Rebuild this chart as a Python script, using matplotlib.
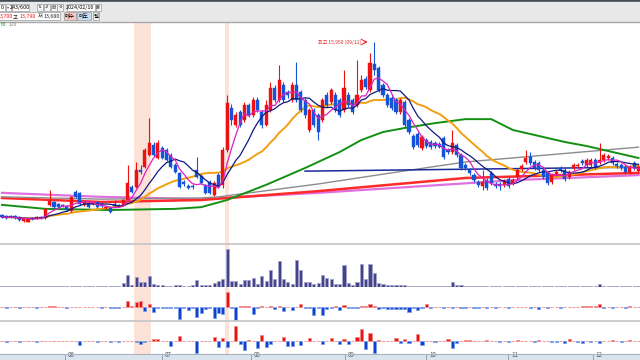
import matplotlib
matplotlib.use('Agg')
import matplotlib.pyplot as plt
import numpy as np
import pandas as pd
from matplotlib.patches import Rectangle

plt.rcParams['font.family'] = ['Noto Sans CJK KR', 'DejaVu Sans']

# ---------------- data ----------------
opens = [12920,12905,12905,12905,12890,12820,12800,12870,12870,12890,
         12870,13100,13150,13115,13100,13080,12990,13325,13310,13100,
         13130,13115,13150,13115,13045,13045,13115,13100,13100,13185,
         13410,13410,13710,13760,13970,14150,13920,14095,14060,13970,
         13800,13660,13500,13430,13430,13710,13605,13450,13500,13270,
         13620,13450,14060,14795,14500,14725,14585,14850,14670,14935,
         14725,14500,14760,15145,14935,15200,15075,14935,15200,15075,
         14935,14410,14760,14670,14585,15020,14900,15020,14935,14760,
         15020,14935,14850,15110,15300,15110,15565,15495,15200,15020,
         14970,14935,14725,14900,14585,14305,14340,14095,14235,14200,
         14180,14165,14270,14060,14025,14150,13970,13800,13710,13620,
         13500,13430,13535,13660,13465,13465,13450,13550,13480,13590,
         13730,13850,13940,13850,13830,13710,13660,13500,13640,13745,
         13710,13590,13745,13780,13870,13800,13800,13885,13850,13885,
         13920,13920,13815,13800,13760,13675,13830,13700]
closes = [12890,12870,12890,12870,12835,12850,12850,12850,12890,12870,
          13030,13170,13060,13060,13080,13010,13240,13240,13115,13150,
          13060,13130,13060,13080,13060,12975,13080,13080,13185,13480,
          13325,13710,13675,14060,14180,13970,14180,13920,13885,13760,
          13675,13410,13465,13395,13410,13590,13480,13310,13310,13480,
          13410,14060,14880,14585,14670,14500,14850,14670,14935,14760,
          14500,14850,15145,14935,15285,14935,15020,15200,14935,14760,
          14670,14760,14500,14375,14935,14850,15110,14760,14670,15145,
          14850,14725,15020,15285,15160,15580,15460,15110,15020,14850,
          14795,14725,14935,14500,14375,14110,14150,14290,14130,14110,
          14130,14110,13940,14025,14180,13970,13745,13745,13660,13535,
          13450,13500,13395,13480,13430,13430,13520,13430,13535,13710,
          13780,13920,13830,13745,13710,13590,13480,13620,13675,13710,
          13550,13675,13800,13800,13830,13885,13885,13760,13885,13970,
          13955,13830,13780,13745,13675,13760,13745,13760]
highs = [12940,12920,12920,12920,12905,12870,12870,12890,12905,12905,
         13045,13360,13170,13130,13115,13100,13255,13360,13325,13170,
         13150,13150,13170,13130,13080,13060,13185,13115,13200,13800,
         13450,13850,13800,14095,14620,14200,14235,14130,14095,14010,
         13830,13675,13535,13465,13465,13940,13640,13465,13535,13520,
         13660,14110,15020,14860,14725,14760,14900,14880,14990,14990,
         14760,14935,15250,15200,15550,15250,15110,15250,15600,15110,
         14970,14795,14795,14710,14970,15075,15145,15075,14970,15460,
         15075,14970,15635,15370,15355,15760,15950,15530,15230,15055,
         15005,14970,14970,14935,14620,14340,14375,14320,14270,14235,
         14220,14200,14305,14095,14410,14180,14010,13830,13745,13660,
         13535,13710,13570,13690,13500,13500,13550,13590,13570,13745,
         13815,14060,14025,13885,13870,13745,13690,13660,13710,13780,
         13745,13710,13830,13830,13900,13920,13920,13920,14180,14010,
         13990,13955,13850,13830,13800,13800,13870,13790]
lows = [12870,12850,12870,12850,12820,12800,12800,12835,12850,12850,
        12850,13080,13045,13045,13060,12990,12975,13220,13100,13080,
        13045,13100,13045,13060,13030,12960,13060,13060,13080,13170,
        13310,13395,13640,13745,13955,13955,13900,13900,13870,13745,
        13660,13395,13430,13380,13380,13570,13465,13290,13290,13255,
        13395,13395,14025,14500,14460,14460,14550,14640,14640,14725,
        14445,14480,14725,14900,14900,14900,14970,14900,14900,14725,
        14620,14375,14460,14235,14550,14810,14865,14725,14640,14725,
        14810,14690,14810,15075,15130,15075,15370,15075,14990,14810,
        14760,14690,14690,14460,14340,14080,14110,14060,14095,14080,
        14095,14095,13900,13990,13990,13940,13710,13710,13620,13500,
        13410,13360,13360,13450,13395,13360,13410,13395,13450,13550,
        13690,13815,13800,13710,13675,13550,13450,13465,13605,13675,
        13520,13550,13710,13745,13800,13760,13760,13730,13815,13850,
        13885,13800,13745,13710,13640,13640,13710,13680]
volume = [20,15,20,15,20,20,15,20,15,20,
          25,30,25,20,15,20,20,25,20,15,
          20,20,15,20,20,15,20,20,80,240,
          40,200,100,100,220,60,40,40,30,30,
          40,40,30,30,40,140,40,40,40,80,
          120,160,760,120,120,60,140,140,180,60,
          220,120,340,160,520,160,100,60,540,340,
          100,100,60,80,240,180,160,60,60,440,
          80,40,100,460,160,460,280,80,60,40,
          40,40,40,40,30,30,30,30,30,30,
          25,25,30,30,100,40,40,30,25,25,
          25,30,25,25,30,25,25,25,20,25,
          25,25,30,25,25,25,25,25,20,25,
          25,25,25,20,25,25,25,25,60,30,
          25,25,20,25,20,25,25,25]
net_a = [50,-50,50,50,-50,50,50,50,-50,50,
         50,60,100,50,50,-100,50,50,50,50,
         50,50,50,-50,50,-50,-100,-50,50,600,
         100,500,600,-400,300,-500,-100,-100,-50,-100,
         -100,-1200,-50,-300,-50,-1000,-600,-200,-50,-1100,
         -600,-700,1500,-50,-1300,100,100,100,-700,-100,
         100,50,100,-200,100,-400,50,-300,50,300,
         -100,-50,-800,-50,-800,-200,-100,100,-300,200,
         -100,-100,-100,100,100,300,100,-200,-100,-200,
         -200,-200,-200,-200,-500,-100,-300,-50,300,-50,
         50,50,-50,50,-50,50,-50,-100,50,-50,
         -100,50,-50,50,-50,50,50,-50,50,50,
         50,50,-50,50,-200,50,-50,50,50,-50,
         50,50,50,50,100,100,100,100,300,-100,
         50,-50,50,50,-50,100,50,50]
net_b = [50,-50,50,50,-50,50,50,50,-50,50,
         50,50,50,50,50,50,50,50,-400,50,
         50,50,-50,50,50,-50,50,-50,50,50,
         50,-50,-300,-50,50,200,200,50,50,-500,
         50,500,50,50,50,-1200,50,50,50,400,
         -600,300,-600,50,1500,-300,-900,100,50,-700,
         600,-600,-300,50,50,400,-500,-500,50,-400,
         50,300,50,50,-300,50,300,50,-300,200,
         -300,50,400,1200,-800,800,-1200,100,50,50,
         50,300,-200,200,-200,50,700,-400,50,50,
         -50,50,50,200,-700,-200,50,100,100,50,
         50,50,100,50,50,-50,50,-100,50,100,
         50,50,50,-50,100,50,50,-50,-50,50,
         -200,200,50,-50,-200,50,-50,50,-200,50,
         50,100,50,-50,50,100,50,50]

# long moving averages (index, price)
ma60_idx = [0,10,25,40,46,52,61,70,78,83,88,93,100,107,113,118,124,130,135,141,147]
ma60_val = [13100,13030,13010,13030,13060,13185,13450,13745,14025,14235,14375,14445,
            14530,14600,14600,14410,14305,14200,14130,14025,13920]
ma120_idx = [0,23,46,50,73,90,107,147]
ma120_val = [13240,13200,13220,13240,13465,13660,13850,14110]
ma240_idx = [0,23,46,73,107,147]
ma240_val = [13220,13150,13185,13340,13570,13660]
ma480_idx = [0,23,46,73,119,147]
ma480_val = [13310,13240,13200,13310,13535,13620]
trend_idx = [70,147]
trend_val = [13690,13760]

highlight_spans = [(31, 34), (52, 52)]
month_labels = ['06', '07', '08', '09', '10', '11', '12']
month_idx = [15, 37.5, 58, 79.7, 98.4, 117.4, 136.9]
peak_label = '최고 15,950 (09/11)'
peak_i = 86

# ---------------- figure ----------------
W, H = 640, 360
fig = plt.figure(figsize=(6.4, 3.6), dpi=100)
fig.patch.set_facecolor('white')

def px_axes(y0, y1):
    ax = fig.add_axes([0, 1 - y1 / H, 1, (y1 - y0) / H])
    ax.set_axis_off()
    return ax

n = len(closes)
x = np.arange(n)
XL = (-0.46, 147.35)

UP, DN = '#ee1111', '#1454d8'
BAND = '#fde2d8'

o = np.array(opens, float); c = np.array(closes, float)
h = np.array(highs, float); l = np.array(lows, float)
up = c >= o
col = np.where(up, UP, DN)

ax = px_axes(22, 244)
ax.set_xlim(*XL)
ax.set_ylim(12415, 16300)
for a, b in highlight_spans:
    ax.axvspan(a - 0.5, b + 0.5, color=BAND, lw=0, zorder=0)

cs = pd.Series(c)
ma5 = cs.rolling(5, min_periods=1).mean()
ma10 = cs.rolling(10, min_periods=1).mean()
ma20 = cs.rolling(20, min_periods=1).mean()

ax.plot(ma480_idx, ma480_val, color='#e070e0', lw=1.6, zorder=1)
ax.plot(ma240_idx, ma240_val, color='#ff2a2a', lw=1.8, zorder=1)
ax.plot(ma120_idx, ma120_val, color='#8c8c8c', lw=1.0, zorder=1)
ax.plot(trend_idx, trend_val, color='#1a2a9a', lw=1.1, zorder=1)
ax.plot(ma60_idx, ma60_val, color='#139013', lw=1.4, zorder=1)
ax.plot(x, ma20, color='#f0a010', lw=1.4, zorder=2)

ax.vlines(x, l, h, colors=col, lw=0.8, zorder=3)
body = np.maximum(np.abs(c - o), 14)
ax.bar(x, body, bottom=np.minimum(o, c), width=0.72, color=col,
       edgecolor=col, lw=0.3, zorder=4)

ax.plot(x, ma10, color='#101880', lw=0.9, zorder=5)
ax.plot(x, ma5, color='#e020c0', lw=0.9, zorder=5)

ax.annotate('', xy=(peak_i - 0.9, highs[peak_i]), xytext=(peak_i - 3.0, highs[peak_i]),
            arrowprops=dict(arrowstyle='->', color='#ee2020', lw=0.7), zorder=6)
ax.text(peak_i - 3.1, highs[peak_i], peak_label, color='#ee2020', fontsize=3.6,
        ha='right', va='center', zorder=6)

# volume
av = px_axes(244, 287)
av.set_xlim(*XL)
av.set_ylim(0, max(volume) * 43 / 38)
for a, b in highlight_spans:
    av.axvspan(a - 0.5, b + 0.5, color=BAND, lw=0, zorder=0)
av.bar(x, volume, width=0.72, color='#44448c', edgecolor='#a4a4cc', lw=0.6, zorder=2)

def net_panel(y0, y1, base, vals):
    a_ = px_axes(y0, y1)
    a_.set_xlim(*XL)
    m = max(abs(v) for v in vals)
    a_.set_ylim(-m * (y1 - base) / 15, m * (base - y0) / 15)
    for a, b in highlight_spans:
        a_.axvspan(a - 0.5, b + 0.5, color=BAND, lw=0, zorder=0)
    v = np.array(vals, float)
    fc = np.where(v >= 0, '#ee1010', '#1040d0')
    ec = np.where(v >= 0, '#f08a8a', '#7c9ee8')
    a_.bar(x, v, width=0.72, color=fc, edgecolor=ec, lw=0.6, zorder=2)
    return a_

net_panel(287, 321, 307, net_a)
net_panel(321, 354, 341, net_b)

# x strip with month labels
axx = px_axes(354, 360)
axx.set_xlim(*XL)
axx.set_ylim(0, 1)
axx.add_patch(Rectangle((XL[0], 0), XL[1] - XL[0], 1, color='#dae4ef', zorder=0))
for lab, mi in zip(month_labels, month_idx):
    axx.plot([mi - 0.5, mi - 0.5], [0, 1], color='#8a96a4', lw=0.6)
    axx.text(mi + 0.2, 0.1, lab, fontsize=4.5, color='#505a66', va='bottom', ha='left')

# overlay: toolbar & separators
ov = fig.add_axes([0, 0, 1, 1])
ov.set_xlim(0, W); ov.set_ylim(H, 0); ov.set_axis_off()
ov.add_patch(Rectangle((0, 0), W, 2.2, color='#474d55'))
ov.add_patch(Rectangle((0, 2.2), W, 19, color='#e8e8e8'))
ov.plot([0, W], [21.5, 21.5], color='#a8a8a8', lw=1.0)
for yy in (244, 321):
    ov.plot([0, W], [yy, yy], color='#c8c8c8', lw=1.3)
ov.plot([0, W], [354, 354], color='#aab4c0', lw=0.8)

def box(x0, y0, w, hh, fc='white', ec='#9a9a9a'):
    ov.add_patch(Rectangle((x0, y0), w, hh, facecolor=fc, edgecolor=ec, lw=0.5))

fs = 3.9
box(-2, 3.5, 7, 7.5); ov.text(1.8, 7.3, '0', fontsize=fs, ha='center', va='center')
box(6, 3.5, 4.5, 7.5); ov.text(8.25, 7.3, '▾', fontsize=3.0, ha='center', va='center', color='#555')
box(11.5, 3.5, 17, 7.5); ov.text(20, 7.3, '243/600', fontsize=fs, ha='center', va='center')
for i, sym in enumerate(['⇅', '⇵', '▤', '⚙']):
    box(37 + i * 6.8, 3.5, 6, 7.5, fc='#f4f4f4')
    ov.text(40 + i * 6.8, 7.3, sym, fontsize=3.2, ha='center', va='center', color='#333',
            family=['DejaVu Sans'])
box(67, 3.5, 28, 7.5); ov.text(80.5, 7.3, '2024/02/16', fontsize=fs, ha='center', va='center')
box(95.5, 3.5, 5, 7.5, fc='#f4f4f4'); ov.text(98, 7.3, '▦', fontsize=3.0, ha='center',
                                              va='center', family=['DejaVu Sans'], color='#444')
box(-2, 12.3, 62, 7.5)
ov.text(0, 16.1, '3,700', fontsize=fs, color='#ee1111', va='center')
ov.text(13.2, 16.1, '고', fontsize=fs, color='#222', va='center')
ov.text(19.5, 16.1, '13,790', fontsize=fs, color='#ee1111', va='center')
ov.text(37.5, 16.1, '저', fontsize=fs, color='#222', va='center')
ov.text(43.5, 16.1, '13,680', fontsize=fs, color='#222', va='center')
box(63.5, 12.3, 12, 7.5, fc='#f8c8c0'); ov.text(69.5, 16.1, '매수', fontsize=fs, ha='center', va='center')
box(77, 12.3, 14, 7.5, fc='#c8dcf4'); ov.text(84, 16.1, '매도', fontsize=fs, ha='center', va='center')
box(93, 12.3, 6, 7.5, fc='#f0f0f0'); ov.text(96, 16.1, '열', fontsize=fs, ha='center', va='center')
ov.text(0.5, 24.5, '60', fontsize=3.6, color='#2a9a2a', va='center')
ov.text(9, 24.5, '120', fontsize=3.6, color='#8a8a8a', va='center')

fig.savefig('out.png', dpi=100)
